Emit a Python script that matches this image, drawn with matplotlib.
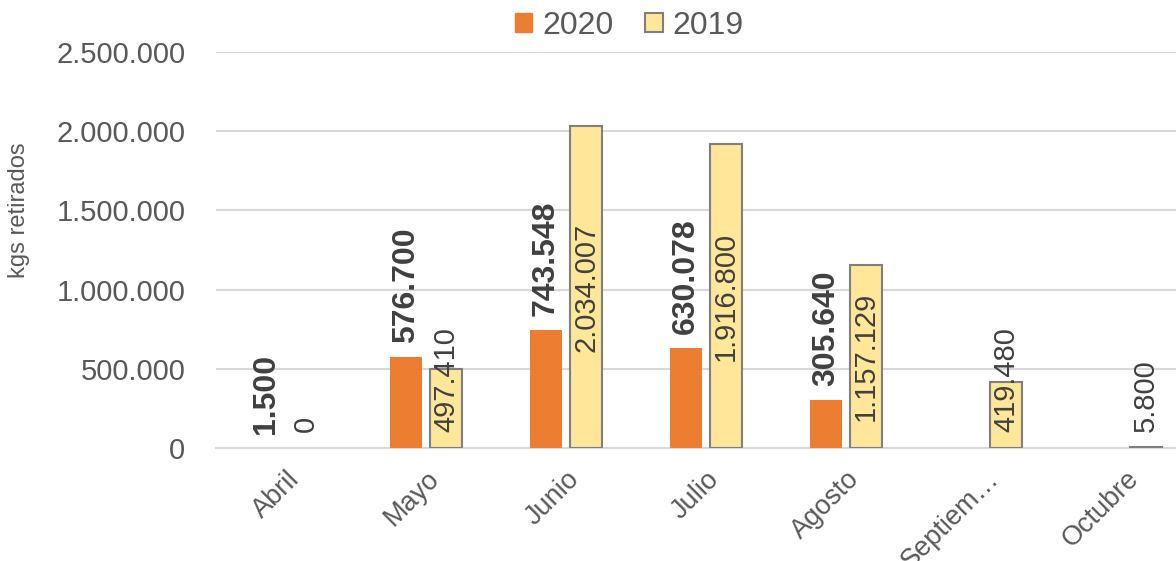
import matplotlib
matplotlib.use("Agg")
import matplotlib.pyplot as plt
import numpy as np
from matplotlib.patches import Patch

meses = ["Abril", "Mayo", "Junio", "Julio", "Agosto", "Septiem…", "Octubre"]
kg_2020 = [1500, 576700, 743548, 630078, 305640, None, None]
kg_2019 = [0, 497410, 2034007, 1916800, 1157129, 419480, 5800]
yticks = [0, 500000, 1000000, 1500000, 2000000, 2500000]

def fmt(v):
    return f"{v:,.0f}".replace(",", ".")

plt.rcParams['font.family'] = ['Liberation Sans', 'DejaVu Sans']

c2020 = '#ED7D31'
c2019 = '#FFE699'
txt = '#404040'
tick_col = '#595959'
grid_col = '#D9D9D9'

fig = plt.figure(figsize=(11.76, 5.61), dpi=100)
ax = fig.add_axes([216/1176, 113/561, 960/1176, 396/561])

x = np.arange(len(meses))
w = 0.222
off = 0.143

v20 = [v if v is not None else 0 for v in kg_2020]
ax.bar(x - off, v20, w, color=c2020, zorder=3)
lw19 = [1.5 if v > 0 else 0 for v in kg_2019]
ax.bar(x + off, kg_2019, w, color=c2019, edgecolor='#7F7F7F', linewidth=lw19, zorder=3)

ax.set_xlim(-0.5, 6.5 - 20/140)
ax.set_ylim(0, 2500000)
ax.set_yticks(yticks)
ax.set_yticklabels([fmt(t) for t in yticks])
ax.yaxis.grid(True, color=grid_col, linewidth=1.5, zorder=0)
for s in ['top', 'right', 'left']:
    ax.spines[s].set_visible(False)
ax.spines['bottom'].set_color(grid_col)
ax.spines['bottom'].set_linewidth(1.5)
ax.tick_params(axis='y', length=0, pad=22, labelsize=21, labelcolor=tick_col)
ax.tick_params(axis='x', length=0, pad=13, labelsize=19.5, labelcolor=tick_col)
ax.set_xticks(x)
ax.set_xticklabels(meses, rotation=45, ha='right', rotation_mode='anchor')

ax.set_ylabel("kgs retirados", fontsize=17, color=tick_col)
ax.yaxis.set_label_coords(-0.194, 0.6)

# etiquetas 2020: encima de la barra, en negrita
for i, v in enumerate(kg_2020):
    if v is None:
        continue
    ax.annotate(fmt(v), (x[i] - off, v), xytext=(0, 10), textcoords='offset points',
                rotation=90, ha='center', va='bottom', fontsize=23,
                fontweight='bold', color=txt, zorder=5)

# etiquetas 2019: centradas en la barra, sin bajar del eje
labels19 = []
for i, v in enumerate(kg_2019):
    t = ax.annotate(fmt(v), (x[i] + off, v / 2), xytext=(0, 0), textcoords='offset points',
                    rotation=90, ha='center', va='center', fontsize=21,
                    color=txt, zorder=5)
    labels19.append(t)

fig.canvas.draw()
r = fig.canvas.get_renderer()
base = ax.transData.transform((0, 0))[1]
for t in labels19:
    bb = t.get_window_extent(r)
    lim = base + 16
    if bb.y0 < lim:
        t.xyann = (0, (lim - bb.y0) * 72 / fig.dpi)

handles = [Patch(facecolor=c2020, edgecolor=c2020),
           Patch(facecolor=c2019, edgecolor='#7F7F7F', linewidth=1.5)]
fig.legend(handles, ['2020', '2019'], loc='center', bbox_to_anchor=(0.535, 1 - 26/561),
           ncol=2, frameon=False, fontsize=23, labelcolor=tick_col,
           handlelength=0.55, handleheight=0.55, handletextpad=0.3, columnspacing=1.0,
           borderpad=0)

fig.savefig('out.png', dpi=100)
